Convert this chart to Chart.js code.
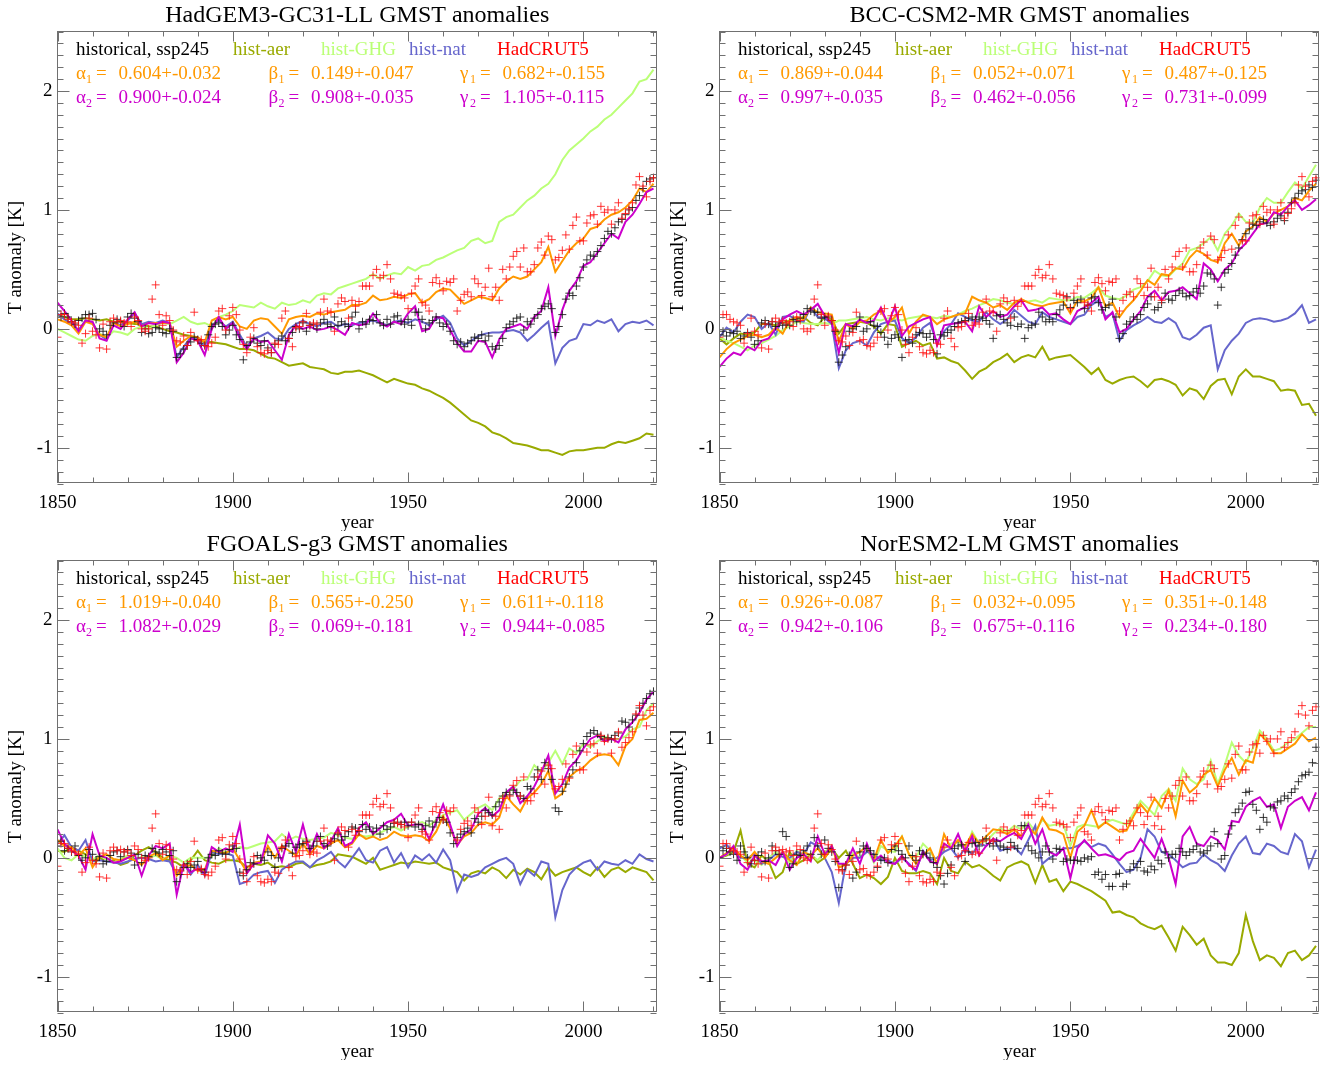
<!DOCTYPE html>
<html><head><meta charset="utf-8">
<script src="https://cdn.jsdelivr.net/npm/chart.js@4.4.0/dist/chart.umd.min.js"></script>
<style>
html,body{margin:0;padding:0;background:#fff;}
body{width:1328px;height:1065px;position:relative;overflow:hidden;}
canvas{position:absolute;display:block;}
</style></head><body>
<canvas id="c0" width="662" height="531" style="left:0px;top:0px"></canvas>
<canvas id="c1" width="666" height="531" style="left:662px;top:0px"></canvas>
<canvas id="c2" width="662" height="531" style="left:0px;top:529px"></canvas>
<canvas id="c3" width="666" height="531" style="left:662px;top:529px"></canvas>
<script>
// ---------- categories / ticks ----------
const yearsAnnual = [
1850,1851,1852,1853,1854,1855,1856,1857,1858,1859,1860,1861,1862,1863,1864,1865,1866,1867,1868,1869,
1870,1871,1872,1873,1874,1875,1876,1877,1878,1879,1880,1881,1882,1883,1884,1885,1886,1887,1888,1889,
1890,1891,1892,1893,1894,1895,1896,1897,1898,1899,1900,1901,1902,1903,1904,1905,1906,1907,1908,1909,
1910,1911,1912,1913,1914,1915,1916,1917,1918,1919,1920,1921,1922,1923,1924,1925,1926,1927,1928,1929,
1930,1931,1932,1933,1934,1935,1936,1937,1938,1939,1940,1941,1942,1943,1944,1945,1946,1947,1948,1949,
1950,1951,1952,1953,1954,1955,1956,1957,1958,1959,1960,1961,1962,1963,1964,1965,1966,1967,1968,1969,
1970,1971,1972,1973,1974,1975,1976,1977,1978,1979,1980,1981,1982,1983,1984,1985,1986,1987,1988,1989,
1990,1991,1992,1993,1994,1995,1996,1997,1998,1999,2000,2001,2002,2003,2004,2005,2006,2007,2008,2009,
2010,2011,2012,2013,2014,2015,2016,2017,2018,2019,2020];
const yearsBiennial = [
1850,1852,1854,1856,1858,1860,1862,1864,1866,1868,1870,1872,1874,1876,1878,1880,1882,1884,1886,1888,
1890,1892,1894,1896,1898,1900,1902,1904,1906,1908,1910,1912,1914,1916,1918,1920,1922,1924,1926,1928,
1930,1932,1934,1936,1938,1940,1942,1944,1946,1948,1950,1952,1954,1956,1958,1960,1962,1964,1966,1968,
1970,1972,1974,1976,1978,1980,1982,1984,1986,1988,1990,1992,1994,1996,1998,2000,2002,2004,2006,2008,
2010,2012,2014,2016,2018,2020];
const xTickValues = [1850,1900,1950,2000];
const yTickValues = [-1,0,1,2];

// ---------- text ----------
const titles = ['HadGEM3-GC31-LL GMST anomalies','BCC-CSM2-MR GMST anomalies','FGOALS-g3 GMST anomalies','NorESM2-LM GMST anomalies'];
const legendLabels = ['historical, ssp245','hist-aer','hist-GHG','hist-nat','HadCRUT5'];
const coefSymbols = ['\u03B1','\u03B2','\u03B3'];
const coefFit1 = [
 ['0.604+-0.032','0.149+-0.047','0.682+-0.155'],
 ['0.869+-0.044','0.052+-0.071','0.487+-0.125'],
 ['1.019+-0.040','0.565+-0.250','0.611+-0.118'],
 ['0.926+-0.087','0.032+-0.095','0.351+-0.148']];
const coefFit2 = [
 ['0.900+-0.024','0.908+-0.035','1.105+-0.115'],
 ['0.997+-0.035','0.462+-0.056','0.731+-0.099'],
 ['1.082+-0.029','0.069+-0.181','0.944+-0.085'],
 ['0.942+-0.106','0.675+-0.116','0.234+-0.180']];

// ---------- observations (annual) ----------
const hadcrut5 = [
-0.07,0.12,0.12,0.08,0.06,0.05,0.03,-0.12,-0.04,0.09,
-0.02,-0.05,-0.16,0.04,-0.17,0.06,0.09,0.06,0.07,0.05,
0.06,0.02,0.10,0.07,0.00,-0.02,0.00,0.25,0.37,0.12,
0.03,0.11,0.07,-0.01,-0.10,-0.11,-0.06,-0.14,-0.03,0.14,
-0.10,-0.09,-0.14,-0.15,-0.12,-0.07,0.15,0.17,-0.01,0.11,
0.18,0.12,-0.01,-0.13,-0.20,-0.07,0.01,-0.15,-0.20,-0.21,
-0.18,-0.20,-0.12,-0.13,0.09,0.15,-0.08,-0.15,0.01,0.02,
0.06,0.13,0.03,0.05,0.04,0.14,0.25,0.15,0.14,-0.02,
0.21,0.26,0.23,0.09,0.24,0.19,0.23,0.36,0.36,0.36,
0.45,0.50,0.43,0.45,0.54,0.42,0.30,0.29,0.28,0.26,
0.17,0.30,0.36,0.42,0.22,0.20,0.15,0.39,0.43,0.38,
0.32,0.40,0.39,0.42,0.15,0.24,0.29,0.31,0.27,0.42,
0.38,0.28,0.35,0.51,0.27,0.35,0.24,0.50,0.42,0.52,
0.61,0.65,0.52,0.68,0.48,0.48,0.54,0.68,0.73,0.62,
0.78,0.75,0.58,0.60,0.66,0.79,0.67,0.87,0.94,0.74,
0.74,0.89,0.95,0.96,0.88,1.03,0.98,1.00,0.88,1.00,
1.06,0.93,0.97,1.01,1.06,1.21,1.28,1.20,1.11,1.24,
1.27];

// ---------- HadGEM3-GC31-LL ----------
const hadgemHist = [
0.15,0.10,0.13,0.10,0.06,0.04,0.07,0.09,0.12,0.12,
0.13,0.08,0.00,-0.02,-0.05,0.03,0.05,0.08,0.06,0.02,
0.10,0.13,0.09,0.06,-0.03,0.00,-0.04,-0.03,0.01,0.00,
-0.03,-0.04,0.00,-0.02,-0.24,-0.21,-0.17,-0.14,-0.11,-0.07,
-0.09,-0.12,-0.14,-0.05,0.02,0.04,0.05,0.02,-0.05,-0.01,
0.03,-0.05,-0.09,-0.26,-0.14,-0.11,-0.08,-0.12,-0.14,-0.10,
-0.16,-0.20,-0.13,-0.10,-0.06,-0.10,-0.08,-0.03,0.02,0.00,
0.05,-0.02,0.03,0.04,0.00,0.05,0.08,0.04,0.02,0.10,
0.03,0.06,0.04,0.02,0.10,0.14,0.00,0.06,0.04,0.08,
0.07,0.12,0.05,0.03,0.08,0.04,0.10,0.11,0.06,0.04,
0.08,0.03,0.14,0.14,0.08,0.00,0.05,0.07,0.10,0.05,
0.02,0.04,-0.02,-0.10,-0.13,-0.11,-0.15,-0.12,-0.10,-0.07,
-0.08,-0.05,-0.10,-0.06,-0.15,-0.17,-0.14,-0.08,0.01,0.04,
0.06,0.09,0.10,-0.01,0.06,0.04,0.09,0.12,0.17,0.19,
0.21,0.17,-0.03,0.02,0.12,0.25,0.30,0.28,0.36,0.43,
0.52,0.58,0.62,0.61,0.65,0.70,0.76,0.82,0.80,0.85,
0.90,0.92,0.96,1.00,1.02,1.08,1.12,1.18,1.24,1.26,
1.27];
const hadgemAer = [
0.12,0.10,0.08,0.08,0.09,0.08,0.07,0.08,0.06,0.06,
0.05,0.04,0.04,0.02,0.02,0.00,-0.02,-0.03,-0.05,-0.06,
-0.09,-0.11,-0.11,-0.12,-0.13,-0.15,-0.17,-0.17,-0.18,-0.21,
-0.24,-0.25,-0.28,-0.31,-0.30,-0.29,-0.32,-0.33,-0.34,-0.37,
-0.38,-0.36,-0.36,-0.35,-0.37,-0.39,-0.42,-0.45,-0.42,-0.44,
-0.46,-0.47,-0.50,-0.52,-0.55,-0.58,-0.62,-0.67,-0.72,-0.77,
-0.79,-0.82,-0.87,-0.89,-0.92,-0.96,-0.97,-0.98,-1.00,-1.02,
-1.02,-1.04,-1.06,-1.03,-1.02,-1.02,-1.01,-1.00,-1.00,-0.97,
-0.95,-0.96,-0.94,-0.92,-0.88,-0.89];
const hadgemGhg = [
0.00,-0.03,-0.06,-0.09,-0.10,-0.06,-0.04,-0.07,-0.02,-0.03,
-0.05,0.00,0.02,0.00,0.03,0.05,0.04,0.07,0.10,0.06,
0.04,0.05,0.02,0.10,0.12,0.15,0.20,0.19,0.18,0.22,
0.19,0.17,0.22,0.20,0.21,0.24,0.22,0.28,0.30,0.29,
0.34,0.36,0.38,0.40,0.42,0.46,0.42,0.45,0.47,0.46,
0.52,0.49,0.53,0.54,0.58,0.60,0.63,0.66,0.68,0.74,
0.76,0.72,0.74,0.90,0.94,0.96,1.02,1.08,1.12,1.18,
1.22,1.30,1.42,1.50,1.55,1.60,1.66,1.70,1.76,1.80,
1.86,1.92,1.98,2.08,2.10,2.18];
const hadgemNat = [
0.13,0.08,0.04,-0.01,0.07,0.05,-0.05,-0.09,0.06,0.03,
0.07,0.13,0.04,0.06,0.05,0.07,0.05,-0.24,-0.15,-0.07,
-0.09,-0.15,0.03,0.07,0.02,0.06,-0.05,-0.15,-0.08,-0.06,
-0.03,-0.08,-0.09,0.00,0.04,0.07,0.04,0.02,0.05,0.06,
0.02,0.04,0.03,0.05,0.06,0.07,0.05,0.03,0.06,0.07,
0.05,0.08,0.06,0.03,0.08,0.11,0.05,-0.08,-0.14,-0.10,
-0.06,-0.04,-0.03,-0.03,-0.02,-0.01,-0.03,-0.10,-0.05,0.01,
0.06,-0.29,-0.16,-0.10,-0.08,0.04,0.03,0.07,0.05,0.08,
-0.02,0.04,0.06,0.05,0.07,0.03];
const hadgemFit1 = [
0.08,0.06,0.03,-0.04,0.06,0.04,-0.05,-0.07,0.05,0.02,
0.04,0.06,0.02,0.05,0.05,0.05,0.05,-0.15,-0.10,-0.06,
-0.07,-0.11,0.07,0.10,0.08,0.10,0.02,0.00,0.07,0.09,
0.08,0.02,-0.04,0.08,0.10,0.11,0.10,0.13,0.12,0.14,
0.15,0.16,0.20,0.20,0.22,0.28,0.24,0.25,0.27,0.26,
0.29,0.30,0.22,0.25,0.31,0.34,0.33,0.27,0.21,0.24,
0.27,0.26,0.24,0.34,0.40,0.44,0.42,0.44,0.50,0.56,
0.69,0.48,0.57,0.66,0.72,0.76,0.84,0.86,0.92,0.96,
0.98,1.02,1.08,1.18,1.15,1.22];
const hadgemFit2 = [
0.22,0.15,0.07,-0.02,0.07,0.06,-0.08,-0.10,0.03,0.00,
0.08,0.14,0.02,0.05,0.04,0.06,0.05,-0.28,-0.20,-0.08,
-0.10,-0.22,0.00,0.10,0.00,0.05,-0.08,-0.17,-0.08,-0.11,
-0.10,-0.18,-0.26,-0.05,0.03,0.00,0.02,-0.01,0.00,0.02,
-0.01,-0.05,0.05,0.03,0.04,0.13,0.05,0.02,0.06,0.04,
0.13,0.19,-0.02,0.00,0.10,0.09,-0.01,-0.12,-0.19,-0.19,
-0.10,-0.11,-0.24,-0.09,0.00,0.02,0.04,0.00,0.10,0.15,
0.35,-0.06,0.16,0.32,0.40,0.53,0.56,0.64,0.72,0.80,
0.76,0.90,0.96,1.05,1.15,1.18];

// ---------- BCC-CSM2-MR ----------
const bccHist = [
-0.05,-0.02,-0.06,-0.03,-0.04,-0.02,-0.08,-0.06,-0.03,-0.07,
-0.13,-0.10,0.05,0.07,0.04,0.06,0.02,0.05,0.03,0.04,
0.03,0.08,0.06,0.09,0.12,0.17,0.15,0.14,0.14,0.09,
0.10,0.10,0.07,-0.02,-0.28,-0.22,-0.15,-0.02,0.00,0.02,
0.10,-0.02,0.00,0.06,0.03,0.02,-0.03,-0.07,-0.13,-0.08,
-0.05,-0.07,-0.24,-0.10,-0.09,-0.12,-0.05,-0.03,-0.04,-0.07,
-0.04,-0.09,-0.21,-0.05,-0.06,-0.03,-0.01,0.02,0.05,0.06,
0.07,0.09,0.10,0.08,0.10,0.09,0.07,0.04,-0.08,0.11,
0.12,0.08,0.05,0.03,0.10,0.02,0.04,-0.08,0.01,0.03,
0.04,0.14,0.10,0.06,0.08,0.06,0.12,0.16,0.20,0.27,
0.18,0.24,0.22,0.25,0.17,0.20,0.26,0.27,0.22,0.16,
0.18,0.20,0.25,0.10,-0.08,-0.04,0.04,0.06,0.10,0.08,
0.12,0.18,0.21,0.27,0.16,0.18,0.22,0.30,0.25,0.24,
0.28,0.32,0.30,0.27,0.28,0.31,0.34,0.30,0.36,0.47,
0.46,0.42,0.20,0.35,0.47,0.50,0.55,0.62,0.68,0.75,
0.80,0.84,0.88,0.87,0.90,0.92,0.89,0.87,0.90,0.93,
0.95,0.91,0.98,1.06,1.10,1.14,1.16,1.17,1.21,1.19,
1.25];
const bccAer = [
-0.08,-0.13,-0.08,-0.04,-0.05,-0.03,0.04,0.04,0.03,0.05,
0.07,0.08,0.10,0.05,0.03,0.10,0.08,-0.04,0.04,0.05,
0.06,0.05,0.02,-0.04,0.04,0.03,-0.15,-0.12,-0.10,-0.14,
-0.12,-0.25,-0.24,-0.27,-0.29,-0.35,-0.42,-0.36,-0.33,-0.28,
-0.25,-0.21,-0.28,-0.24,-0.22,-0.24,-0.15,-0.26,-0.24,-0.23,
-0.22,-0.27,-0.32,-0.38,-0.33,-0.43,-0.46,-0.43,-0.41,-0.40,
-0.44,-0.49,-0.43,-0.42,-0.44,-0.47,-0.56,-0.50,-0.52,-0.59,
-0.48,-0.43,-0.42,-0.55,-0.40,-0.34,-0.40,-0.40,-0.42,-0.44,
-0.52,-0.51,-0.52,-0.64,-0.63,-0.73];
const bccGhg = [
-0.07,-0.10,-0.12,-0.15,-0.18,-0.14,-0.12,-0.09,-0.06,-0.01,
0.02,0.06,0.05,0.04,0.04,0.05,0.04,0.07,0.07,0.08,
0.09,0.10,0.08,0.07,0.09,0.08,0.07,0.09,0.10,0.11,
0.10,0.09,0.11,0.10,0.12,0.15,0.17,0.20,0.22,0.25,
0.24,0.22,0.21,0.24,0.23,0.24,0.22,0.26,0.25,0.24,
0.24,0.27,0.26,0.30,0.35,0.28,0.26,0.25,0.28,0.33,
0.35,0.40,0.49,0.45,0.44,0.50,0.55,0.66,0.68,0.72,
0.77,0.66,0.80,0.87,0.97,0.90,0.89,1.02,1.10,1.06,
1.06,1.15,1.23,1.18,1.28,1.38];
const bccNat = [
-0.07,0.01,-0.03,0.06,0.12,0.10,0.00,0.05,-0.05,0.10,
0.11,0.07,0.06,0.18,0.10,0.09,0.04,-0.33,-0.18,-0.12,
-0.10,-0.14,-0.03,0.04,0.06,0.07,-0.08,-0.12,-0.07,0.01,
0.05,-0.12,-0.02,0.04,0.13,0.10,0.07,0.06,0.14,0.08,
0.04,0.08,0.16,0.11,0.06,0.04,0.14,0.10,0.08,0.06,
0.04,0.10,0.12,0.20,0.24,0.10,0.13,-0.10,-0.01,0.03,
0.06,0.10,0.06,0.05,0.09,0.05,-0.07,-0.09,-0.05,0.01,
0.03,-0.34,-0.18,-0.10,-0.04,0.05,0.08,0.09,0.08,0.06,
0.07,0.09,0.13,0.20,0.05,0.08];
const bccFit1 = [
-0.24,-0.17,-0.12,-0.09,-0.06,-0.05,-0.07,-0.05,0.01,-0.04,
0.07,0.10,0.08,0.18,0.14,0.13,0.12,-0.11,0.04,0.00,
0.06,0.07,0.12,0.15,0.05,0.10,0.18,-0.04,0.06,0.12,
0.10,0.04,0.08,0.10,0.12,0.13,0.27,0.24,0.22,0.18,
0.20,0.16,0.22,0.25,0.22,0.20,0.19,0.21,0.22,0.23,
0.13,0.24,0.23,0.26,0.35,0.19,0.22,0.10,0.18,0.24,
0.32,0.41,0.37,0.46,0.45,0.51,0.50,0.60,0.66,0.63,
0.58,0.56,0.72,0.80,0.70,0.82,0.86,0.94,0.90,0.97,
1.00,1.03,1.10,1.08,1.16,1.22];
const bccFit2 = [
-0.32,-0.25,-0.20,-0.22,-0.15,-0.18,-0.10,-0.08,0.00,0.08,
0.12,0.15,0.12,0.16,0.21,0.11,0.05,-0.20,0.04,0.02,
0.08,0.05,0.07,0.18,0.04,0.19,-0.06,0.02,0.05,0.08,
0.10,-0.14,0.03,0.04,0.05,0.06,-0.02,0.19,0.10,0.15,
0.10,0.12,0.19,0.24,0.15,0.16,0.18,0.12,0.13,0.08,
0.04,0.15,0.18,0.22,0.27,0.08,0.14,-0.03,0.00,0.08,
0.15,0.27,0.32,0.24,0.31,0.32,0.35,0.30,0.25,0.55,
0.50,0.40,0.50,0.55,0.66,0.72,0.80,0.88,0.89,0.98,
0.96,1.03,1.08,1.00,1.04,1.09];

// ---------- FGOALS-g3 ----------
const fgoalsHist = [
0.10,0.14,0.06,0.08,0.05,0.10,0.02,-0.02,0.00,0.07,
0.03,-0.02,0.01,-0.05,-0.03,0.02,0.05,0.06,0.01,0.05,
0.07,0.04,-0.06,0.03,-0.04,0.02,0.01,0.08,0.05,0.04,
0.07,0.05,0.02,0.06,-0.20,-0.14,-0.08,-0.05,-0.08,-0.06,
-0.03,-0.10,-0.12,0.00,0.03,0.02,0.06,0.04,0.03,0.07,
0.10,0.08,-0.12,-0.15,-0.10,-0.04,-0.05,0.02,0.00,-0.02,
0.05,0.02,-0.08,0.00,0.08,0.10,0.12,0.04,0.09,0.11,
0.12,0.14,0.08,0.10,0.14,0.18,0.12,0.10,0.14,0.16,
0.20,0.15,0.18,0.22,0.26,0.25,0.22,0.28,0.24,0.26,
0.22,0.25,0.20,0.27,0.24,0.26,0.29,0.30,0.28,0.30,
0.27,0.30,0.26,0.28,0.24,0.27,0.31,0.26,0.30,0.34,
0.32,0.30,0.21,0.12,0.17,0.20,0.22,0.25,0.21,0.33,
0.30,0.35,0.40,0.38,0.36,0.43,0.47,0.52,0.55,0.53,
0.57,0.55,0.52,0.50,0.60,0.58,0.68,0.74,0.66,0.80,
0.75,0.66,0.42,0.39,0.56,0.62,0.68,0.74,0.80,0.90,
0.96,1.02,1.05,1.07,1.04,1.02,1.00,1.01,1.00,1.03,
1.05,1.15,1.14,1.10,1.16,1.20,1.26,1.30,1.34,1.38,
1.40];
const fgoalsAer = [
0.06,0.05,0.09,0.06,0.03,-0.02,0.00,-0.03,-0.02,-0.06,
-0.04,0.02,0.06,0.09,0.05,0.00,-0.02,-0.04,-0.08,-0.02,
0.06,-0.02,-0.04,-0.05,-0.02,-0.02,-0.03,-0.08,-0.05,-0.06,
-0.04,-0.08,-0.07,-0.08,-0.05,-0.04,-0.08,-0.06,-0.05,-0.03,
0.03,0.02,0.01,-0.02,-0.05,0.00,-0.10,-0.08,-0.06,-0.04,
-0.05,-0.03,-0.04,-0.05,-0.04,-0.08,-0.10,-0.12,-0.19,-0.13,
-0.11,-0.13,-0.08,-0.11,-0.17,-0.10,-0.14,-0.09,-0.12,-0.18,
-0.08,-0.15,-0.12,-0.10,-0.08,-0.12,-0.15,-0.08,-0.16,-0.10,
-0.08,-0.12,-0.08,-0.10,-0.12,-0.19];
const fgoalsGhg = [
0.08,0.00,-0.02,0.03,0.01,-0.02,0.03,-0.02,-0.04,-0.01,
0.02,-0.02,0.01,0.00,0.02,-0.01,0.02,0.00,-0.04,0.00,
0.00,0.00,0.01,0.08,0.05,0.06,0.09,0.08,0.10,0.12,
0.13,0.14,0.20,0.15,0.18,0.16,0.15,0.16,0.17,0.21,
0.19,0.17,0.16,0.19,0.18,0.19,0.21,0.24,0.26,0.23,
0.26,0.28,0.30,0.27,0.32,0.36,0.38,0.40,0.32,0.37,
0.42,0.45,0.40,0.50,0.55,0.58,0.65,0.66,0.78,0.72,
0.80,0.90,0.79,0.92,0.88,0.96,0.93,0.98,1.02,1.00,
1.00,1.02,1.08,1.10,1.24,1.30];
const fgoalsNat = [
0.12,0.19,0.09,0.06,0.15,-0.03,-0.02,-0.03,-0.04,-0.05,
-0.03,-0.01,0.00,-0.01,-0.03,-0.02,-0.03,-0.14,-0.05,-0.14,
-0.06,-0.15,0.05,0.03,0.04,0.02,-0.22,-0.20,-0.14,-0.12,
-0.11,-0.21,-0.10,-0.06,-0.03,-0.03,-0.08,-0.02,0.01,0.05,
-0.03,-0.08,0.00,0.08,-0.02,-0.04,0.06,0.09,-0.04,0.04,
-0.08,0.02,-0.02,0.03,-0.04,0.07,-0.02,-0.28,-0.14,-0.16,
-0.14,-0.08,-0.05,-0.02,0.00,-0.05,-0.22,-0.10,-0.15,-0.03,
-0.05,-0.50,-0.27,-0.14,-0.08,-0.04,-0.02,-0.10,-0.03,-0.05,
-0.06,-0.02,-0.05,0.03,-0.01,-0.03];
const fgoalsFit1 = [
0.15,0.10,0.09,0.02,0.08,-0.08,0.01,0.03,-0.01,-0.02,
0.00,-0.02,-0.06,0.01,0.04,-0.02,0.02,-0.15,-0.08,-0.06,
-0.11,-0.10,0.06,0.05,0.04,0.08,-0.02,-0.12,-0.04,-0.03,
0.10,0.00,0.10,0.06,0.02,0.12,0.03,0.10,0.08,0.12,
0.15,0.09,0.12,0.20,0.16,0.18,0.15,0.17,0.22,0.19,
0.18,0.19,0.18,0.14,0.22,0.35,0.25,0.11,0.18,0.21,
0.28,0.30,0.28,0.34,0.52,0.45,0.39,0.50,0.55,0.62,
0.73,0.50,0.54,0.68,0.73,0.76,0.82,0.86,0.87,0.86,
0.78,0.94,1.00,1.16,1.17,1.22];
const fgoalsFit2 = [
0.24,0.12,0.06,0.02,-0.10,0.20,0.02,0.00,-0.04,-0.03,
0.00,0.03,-0.15,0.02,0.10,0.08,0.12,-0.31,-0.05,-0.12,
-0.09,-0.13,0.09,0.05,0.08,0.05,0.28,-0.13,-0.05,-0.04,
0.19,0.12,-0.03,0.20,0.05,0.28,0.05,0.20,0.08,0.14,
0.25,0.10,0.13,0.25,0.30,0.20,0.25,0.30,0.32,0.37,
0.27,0.28,0.28,0.16,0.30,0.45,0.28,0.10,0.20,0.24,
0.37,0.42,0.35,0.40,0.55,0.60,0.46,0.52,0.60,0.72,
0.86,0.54,0.62,0.76,0.82,0.92,1.00,1.03,0.98,1.00,
0.97,1.08,1.14,1.22,1.33,1.40];

// ---------- NorESM2-LM ----------
const noresmHist = [
0.00,0.06,0.08,0.05,0.03,-0.02,0.10,0.05,0.00,-0.05,
-0.02,0.02,0.05,-0.03,0.00,0.10,0.06,0.03,0.22,0.18,
-0.08,-0.05,0.03,0.02,0.06,0.10,0.03,0.17,0.10,0.03,
0.15,0.08,0.05,-0.03,-0.25,-0.10,-0.06,0.02,-0.17,-0.12,
0.05,0.10,0.08,0.06,0.03,-0.08,-0.02,0.00,-0.04,0.07,
0.10,0.06,0.03,0.00,0.10,0.02,-0.02,0.06,0.03,0.04,
0.00,-0.04,-0.08,-0.15,-0.22,-0.13,-0.06,0.08,0.10,0.11,
-0.03,0.05,0.12,0.13,0.10,0.15,0.16,0.12,0.10,0.14,
0.10,0.09,0.07,0.13,0.10,0.08,0.27,0.27,0.10,0.06,
0.04,0.00,0.05,0.10,0.05,-0.01,0.08,0.07,-0.03,-0.01,
-0.02,-0.02,-0.02,-0.03,0.00,-0.01,0.01,-0.14,-0.12,-0.18,
-0.14,-0.24,-0.24,-0.14,-0.13,-0.24,-0.22,-0.10,-0.05,-0.08,
-0.03,-0.11,-0.12,-0.07,-0.10,-0.02,-0.05,0.05,0.00,0.03,
0.03,0.08,0.05,0.02,0.05,0.07,0.10,0.05,0.04,0.06,
0.10,0.22,0.12,-0.01,0.02,0.20,0.27,0.38,0.41,0.46,
0.55,0.56,0.45,0.40,0.24,0.34,0.30,0.43,0.42,0.47,
0.48,0.52,0.50,0.55,0.58,0.64,0.69,0.70,0.72,0.80,
0.93];
const noresmAer = [
0.00,0.02,0.05,0.23,-0.05,-0.08,0.02,-0.03,-0.17,-0.12,
0.05,-0.05,-0.02,0.03,-0.04,0.00,0.08,0.00,0.06,-0.05,
-0.17,-0.14,-0.17,-0.22,-0.16,0.00,-0.11,-0.13,-0.13,-0.11,
-0.13,-0.22,0.00,-0.11,-0.13,-0.03,-0.08,-0.06,-0.10,-0.15,
-0.19,-0.08,-0.05,-0.03,-0.06,-0.21,-0.06,-0.20,-0.18,-0.28,
-0.20,-0.22,-0.25,-0.28,-0.32,-0.36,-0.46,-0.45,-0.48,-0.50,
-0.55,-0.58,-0.60,-0.57,-0.67,-0.78,-0.58,-0.65,-0.73,-0.68,
-0.82,-0.88,-0.88,-0.90,-0.80,-0.48,-0.70,-0.86,-0.82,-0.84,
-0.91,-0.80,-0.78,-0.86,-0.82,-0.74];
const noresmGhg = [
0.00,0.03,0.06,0.02,-0.04,-0.02,-0.06,0.00,0.05,0.01,
-0.04,0.06,0.02,0.03,-0.02,0.05,0.10,-0.06,-0.05,0.04,
0.00,0.08,-0.04,0.10,0.06,0.05,0.18,0.03,0.00,0.12,
0.06,-0.05,0.08,0.12,0.14,0.06,0.22,0.12,0.14,0.20,
0.25,0.22,0.27,0.24,0.30,0.22,0.32,0.27,0.28,0.28,
0.10,0.26,0.28,0.27,0.26,0.30,0.32,0.30,0.28,0.38,
0.48,0.42,0.36,0.52,0.58,0.48,0.75,0.66,0.62,0.66,
0.82,0.62,0.78,0.97,0.86,0.80,0.92,1.07,1.00,0.90,
0.92,0.97,1.00,1.05,1.10,1.10];
const noresmNat = [
0.08,0.11,0.05,0.00,0.00,0.03,-0.05,-0.02,0.03,0.01,
0.00,0.05,0.03,0.13,0.10,0.00,-0.12,-0.38,-0.05,0.00,
0.00,0.05,0.03,-0.02,-0.02,-0.05,0.00,-0.05,-0.11,0.06,
-0.02,0.00,0.05,0.08,0.00,0.08,0.03,0.12,0.10,0.16,
0.06,0.08,0.09,0.03,0.15,0.27,-0.05,0.00,0.03,0.08,
0.08,0.10,0.14,0.09,0.12,0.10,0.03,-0.05,-0.12,-0.10,
0.00,0.24,0.18,0.05,0.03,-0.02,-0.08,-0.05,-0.04,0.03,
-0.02,-0.05,-0.11,0.02,0.12,0.18,0.04,0.03,0.12,0.10,
0.05,0.03,0.20,0.14,-0.08,0.07];
const noresmFit1 = [
0.00,0.04,0.08,0.02,-0.02,0.05,-0.03,-0.05,0.00,0.05,
-0.02,-0.06,0.05,0.02,0.08,0.00,0.10,-0.08,-0.06,0.02,
0.05,0.10,-0.02,0.15,0.04,0.10,0.18,0.03,-0.05,0.02,
0.08,-0.05,0.20,0.08,0.15,0.10,0.20,0.12,0.18,0.24,
0.23,0.20,0.24,0.18,0.26,0.20,0.34,0.24,0.23,0.20,
0.00,0.22,0.27,0.40,0.25,0.30,0.26,0.22,0.23,0.35,
0.45,0.38,0.50,0.42,0.57,0.35,0.65,0.55,0.60,0.70,
0.74,0.60,0.74,0.84,0.70,0.82,0.80,1.04,0.98,0.88,
0.88,0.92,0.96,1.04,0.98,1.01];
const noresmFit2 = [
0.00,0.03,0.10,-0.05,-0.10,0.02,-0.03,-0.02,-0.06,0.05,
-0.10,0.00,0.03,-0.03,0.18,0.03,0.10,-0.05,-0.05,0.08,
-0.05,0.12,-0.03,0.02,-0.04,-0.05,0.02,-0.06,-0.10,0.05,
-0.03,-0.05,0.12,0.08,0.20,0.05,0.18,0.02,0.10,0.16,
0.14,0.18,0.21,0.16,0.28,0.12,0.24,0.05,0.02,0.08,
-0.17,0.08,0.15,0.08,0.02,0.03,0.01,-0.02,0.04,0.06,
0.16,0.08,0.00,0.16,0.00,-0.22,0.18,0.26,0.12,0.10,
0.18,0.15,0.07,0.31,0.30,0.43,0.48,0.51,0.43,0.45,
0.25,0.43,0.48,0.51,0.40,0.55];

// ---------- styling ----------
const COL = {hist:'#000000', histMark:'rgba(20,20,20,0.85)', aer:'#99aa00', ghg:'#bbff77', nat:'#6666cc', had:'#ff0000', hadMark:'rgba(255,20,20,0.85)', fit1:'#ff9900', fit2:'#cc00cc'};
const legendColors = [COL.hist, COL.aer, COL.ghg, COL.nat, COL.had];
const FONT = '"Liberation Serif","Times New Roman",serif';

const panels = [
 {id:'c0', t:0, hist:hadgemHist, aer:hadgemAer, ghg:hadgemGhg, nat:hadgemNat, f1:hadgemFit1, f2:hadgemFit2, padR:4.5},
 {id:'c1', t:1, hist:bccHist, aer:bccAer, ghg:bccGhg, nat:bccNat, f1:bccFit1, f2:bccFit2, padR:8.5},
 {id:'c2', t:2, hist:fgoalsHist, aer:fgoalsAer, ghg:fgoalsGhg, nat:fgoalsNat, f1:fgoalsFit1, f2:fgoalsFit2, padR:4.5},
 {id:'c3', t:3, hist:noresmHist, aer:noresmAer, ghg:noresmGhg, nat:noresmNat, f1:noresmFit1, f2:noresmFit2, padR:8.5}
];

function pts(xs, ys){ return xs.map((x,i)=>({x:x, y:ys[i]})); }
function lineDs(label, ys, color, order){
  return {label, data:pts(yearsBiennial, ys), showLine:true, borderColor:color, backgroundColor:color,
    borderWidth:2, pointRadius:0, pointHoverRadius:0, tension:0, order};
}
function crossDs(label, ys, color, order){
  return {label, data:pts(yearsAnnual, ys), showLine:false, pointStyle:'cross', pointRadius:4,
    pointHoverRadius:4, borderColor:color, backgroundColor:color, pointBorderWidth:1, borderWidth:1, order};
}

const deco = {
  id:'deco',
  afterDraw(chart, args, opts){
    const ctx = chart.ctx;
    const {left:L, right:R, top:T, bottom:B} = chart.chartArea;
    const xs = chart.scales.x, ys = chart.scales.y;
    const k = opts.k;
    ctx.save();
    ctx.strokeStyle = '#707070'; ctx.lineWidth = 1;
    const l = Math.floor(L)+0.5, r = Math.floor(R)-0.5, t = Math.floor(T)+0.5, b = Math.floor(B)-0.5;
    ctx.strokeRect(l, t, r-l, b-t);
    ctx.beginPath();
    for (let v = 1850; v <= 2020; v += 10){
      const px = Math.round(xs.getPixelForValue(v)) + 0.5;
      const len = (v % 50 === 0) ? 10 : 5;
      ctx.moveTo(px, b); ctx.lineTo(px, b-len);
      ctx.moveTo(px, t); ctx.lineTo(px, t+len);
    }
    for (let i = -13; i <= 25; i++){
      const py = Math.round(ys.getPixelForValue(i/10)) + 0.5;
      const len = (i % 10 === 0) ? 12 : 6;
      ctx.moveTo(l, py); ctx.lineTo(l+len, py);
      ctx.moveTo(r, py); ctx.lineTo(r-len, py);
    }
    ctx.stroke();
    ctx.fillStyle = '#000';
    ctx.textAlign = 'center'; ctx.textBaseline = 'alphabetic';
    ctx.font = '24px ' + FONT;
    ctx.fillText(titles[k], (L+R)/2, 22);
    ctx.font = '19px ' + FONT;
    ctx.fillText('year', (L+R)/2, 528);
    ctx.save();
    ctx.translate(21, (T+B)/2);
    ctx.rotate(-Math.PI/2);
    ctx.fillText('T anomaly [K]', 0, 0);
    ctx.restore();
    ctx.textAlign = 'left';
    const offs = [18.5, 175.5, 263.5, 351.5, 439.5];
    legendLabels.forEach((s,i)=>{ ctx.fillStyle = legendColors[i]; ctx.fillText(s, L+offs[i], T+23.5); });
    const gx = [18.5, 211, 402.5];
    const rows = [[coefFit1[k], COL.fit1, '1', 47.5], [coefFit2[k], COL.fit2, '2', 71]];
    rows.forEach(([vals, col, sub, dy])=>{
      ctx.fillStyle = col;
      vals.forEach((val, j)=>{
        const x0 = L + gx[j], y0 = T + dy;
        ctx.font = '19px ' + FONT;
        ctx.fillText(coefSymbols[j], x0, y0);
        ctx.font = '12px ' + FONT;
        ctx.fillText(sub, x0 + 10, y0 + 4);
        ctx.font = '19px ' + FONT;
        ctx.fillText('=', x0 + 20, y0);
        ctx.fillText(val, x0 + 42.5, y0);
      });
    });
    ctx.restore();
  }
};

panels.forEach(p=>{
  const datasets = [
    lineDs('hist-aer', p.aer, COL.aer, 6),
    lineDs('hist-GHG', p.ghg, COL.ghg, 5),
    lineDs('hist-nat', p.nat, COL.nat, 4),
    lineDs('fit1', p.f1, COL.fit1, 3),
    lineDs('fit2', p.f2, COL.fit2, 2),
    crossDs('historical, ssp245', p.hist, COL.histMark, 1),
    crossDs('HadCRUT5', hadcrut5, COL.hadMark, 0)
  ];
  new Chart(document.getElementById(p.id), {
    type:'scatter',
    data:{datasets},
    plugins:[deco],
    options:{
      responsive:false, animation:false, devicePixelRatio:1, events:[],
      layout:{padding:{top:31.5, right:p.padR, left:0, bottom:0}},
      plugins:{legend:{display:false}, tooltip:{enabled:false}, title:{display:false}, deco:{k:p.t}},
      scales:{
        x:{type:'linear', position:'bottom', min:1850, max:2021,
           grid:{display:false, drawTicks:false}, border:{display:false},
           afterBuildTicks:s=>{ s.ticks = xTickValues.map(v=>({value:v})); },
           afterFit:s=>{ s.height = 47.5; },
           ticks:{font:{family:FONT, size:19}, color:'#000', padding:8, maxRotation:0, autoSkip:false,
                  callback:v=>String(v)}},
        y:{type:'linear', position:'left', min:-1.3, max:2.5,
           grid:{display:false, drawTicks:false}, border:{display:false},
           afterBuildTicks:s=>{ s.ticks = yTickValues.map(v=>({value:v})); },
           afterFit:s=>{ s.width = 57.5; },
           ticks:{font:{family:FONT, size:19}, color:'#000', padding:5, autoSkip:false,
                  callback:v=>String(v)}}
      }
    }
  });
});
</script>
</body></html>
